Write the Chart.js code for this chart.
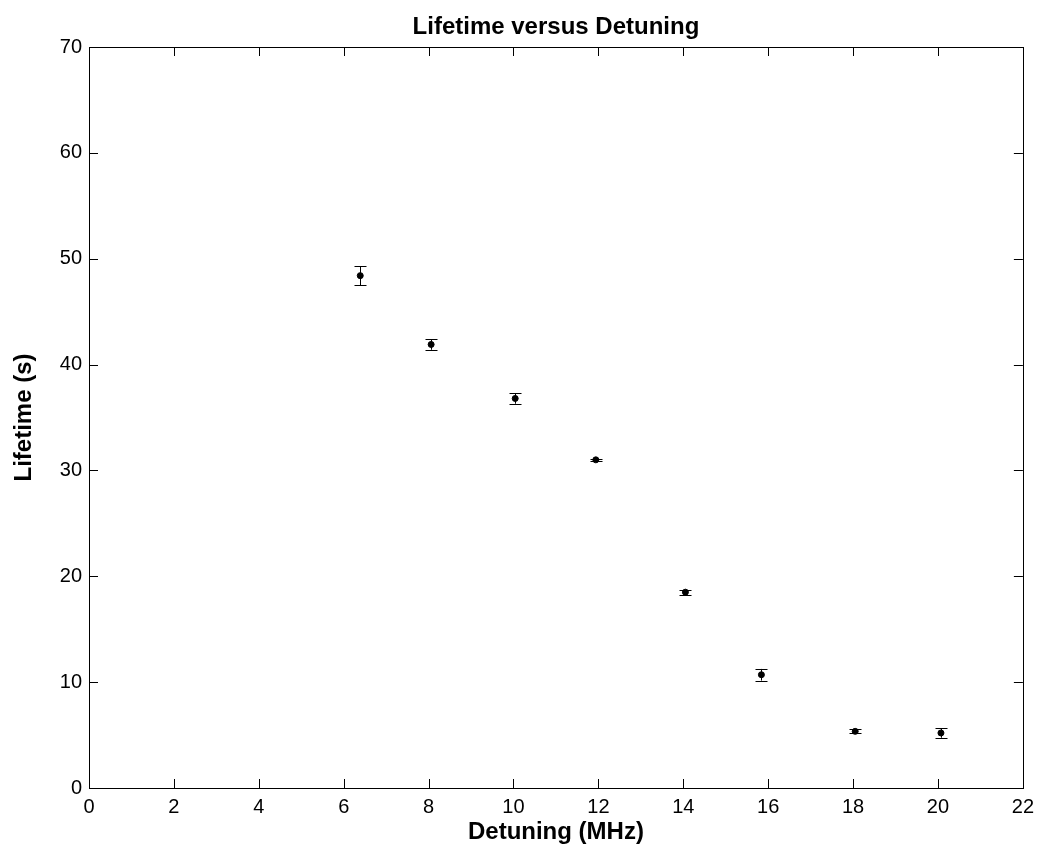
<!DOCTYPE html>
<html>
<head>
<meta charset="utf-8">
<script src="https://cdn.jsdelivr.net/npm/chart.js@4/dist/chart.umd.min.js"></script>
<style>
  html, body { margin: 0; padding: 0; background: #fff; }
  #wrap { width: 1041px; height: 849px; }
</style>
</head>
<body>
<div id="wrap"><canvas id="LifetimeChart" width="1041" height="849"></canvas></div>
<script>
// values
const detuning = [6.39, 8.06, 10.04, 11.94, 14.05, 15.84, 18.05, 20.07];
const lifetime = [48.4, 41.9, 36.8, 31.0, 18.5, 10.7, 5.35, 5.2];
const lifetimeErr = [0.9, 0.5, 0.5, 0.12, 0.25, 0.55, 0.2, 0.45];
const xTicks = [0, 2, 4, 6, 8, 10, 12, 14, 16, 18, 20, 22];
const yTicks = [0, 10, 20, 30, 40, 50, 60, 70];

const fontFam = '"Liberation Sans", Arial, Helvetica, sans-serif';

// error bars + MATLAB style box with inward ticks
const matlabBox = {
    id: 'matlabBox',
    afterLayout(chart) {
        // centre the title over the plot area, not the canvas
        if (chart.titleBlock) {
            chart.titleBlock.left = chart.chartArea.left;
            chart.titleBlock.right = chart.chartArea.right;
        }
    },
    afterDatasetsDraw(chart) {
        const ctx = chart.ctx;
        const xs = chart.scales.x, ys = chart.scales.y;
        const a = chart.chartArea;
        ctx.save();
        ctx.strokeStyle = '#000';
        ctx.lineWidth = 1;
        // error bars
        detuning.forEach((d, i) => {
            const px = Math.round(xs.getPixelForValue(d)) + 0.5;
            const top = ys.getPixelForValue(lifetime[i] + lifetimeErr[i]);
            const bot = ys.getPixelForValue(lifetime[i] - lifetimeErr[i]);
            ctx.beginPath();
            ctx.moveTo(px, top); ctx.lineTo(px, bot);
            ctx.moveTo(px - 6, Math.round(top) + 0.5); ctx.lineTo(px + 6, Math.round(top) + 0.5);
            ctx.moveTo(px - 6, Math.round(bot) + 0.5); ctx.lineTo(px + 6, Math.round(bot) + 0.5);
            ctx.stroke();
        });
        // box
        ctx.strokeRect(Math.round(a.left) + 0.5, Math.round(a.top) + 0.5,
            Math.round(a.right - a.left), Math.round(a.bottom - a.top));
        // inward ticks
        const len = 9;
        ctx.beginPath();
        xTicks.forEach(t => {
            const px = Math.round(xs.getPixelForValue(t)) + 0.5;
            ctx.moveTo(px, a.bottom); ctx.lineTo(px, a.bottom - len);
            ctx.moveTo(px, a.top); ctx.lineTo(px, a.top + len);
        });
        yTicks.forEach(t => {
            const py = Math.round(ys.getPixelForValue(t)) + 0.5;
            ctx.moveTo(a.left, py); ctx.lineTo(a.left + len, py);
            ctx.moveTo(a.right, py); ctx.lineTo(a.right - len, py);
        });
        ctx.stroke();
        ctx.restore();
    }
};

document.addEventListener('DOMContentLoaded', () => {
    const ctx = document.getElementById('LifetimeChart').getContext('2d');
    new Chart(ctx, {
        type: 'scatter',
        data: {
            datasets: [{
                label: 'Lifetime',
                data: detuning.map((d, i) => ({ x: d, y: lifetime[i] })),
                backgroundColor: '#000',
                borderColor: '#000',
                pointRadius: 3,
                pointHoverRadius: 3
            }]
        },
        options: {
            responsive: false,
            animation: false,
            layout: { padding: { left: 0, right: 15, top: 0, bottom: 0 } },
            plugins: {
                legend: { display: false },
                tooltip: { enabled: false },
                title: {
                    display: true,
                    text: 'Lifetime versus Detuning',
                    color: '#000',
                    font: { family: fontFam, size: 24, weight: 'bold' },
                    padding: { top: 12.6, bottom: 5.6 }
                }
            },
            scales: {
                x: {
                    type: 'linear',
                    min: 0, max: 22,
                    afterBuildTicks: s => { s.ticks = xTicks.map(v => ({ value: v })); },
                    afterFit: s => { s.height = 61; },
                    grid: { display: false, drawTicks: false },
                    border: { display: false },
                    ticks: { color: '#000', padding: 7, font: { family: fontFam, size: 20 } },
                    title: {
                        display: true, text: 'Detuning (MHz)', color: '#000',
                        font: { family: fontFam, size: 24, weight: 'bold' },
                        padding: { top: 0, bottom: 2 }
                    }
                },
                y: {
                    min: 0, max: 70,
                    afterBuildTicks: s => { s.ticks = yTicks.map(v => ({ value: v })); },
                    afterFit: s => { s.width = 89; },
                    grid: { display: false, drawTicks: false },
                    border: { display: false },
                    ticks: { color: '#000', padding: 7, font: { family: fontFam, size: 20 } },
                    title: {
                        display: true, text: 'Lifetime (s)', color: '#000',
                        font: { family: fontFam, size: 24, weight: 'bold' },
                        padding: { top: 10, bottom: 0 }
                    }
                }
            }
        },
        plugins: [matlabBox]
    });
});
</script>
</body>
</html>
